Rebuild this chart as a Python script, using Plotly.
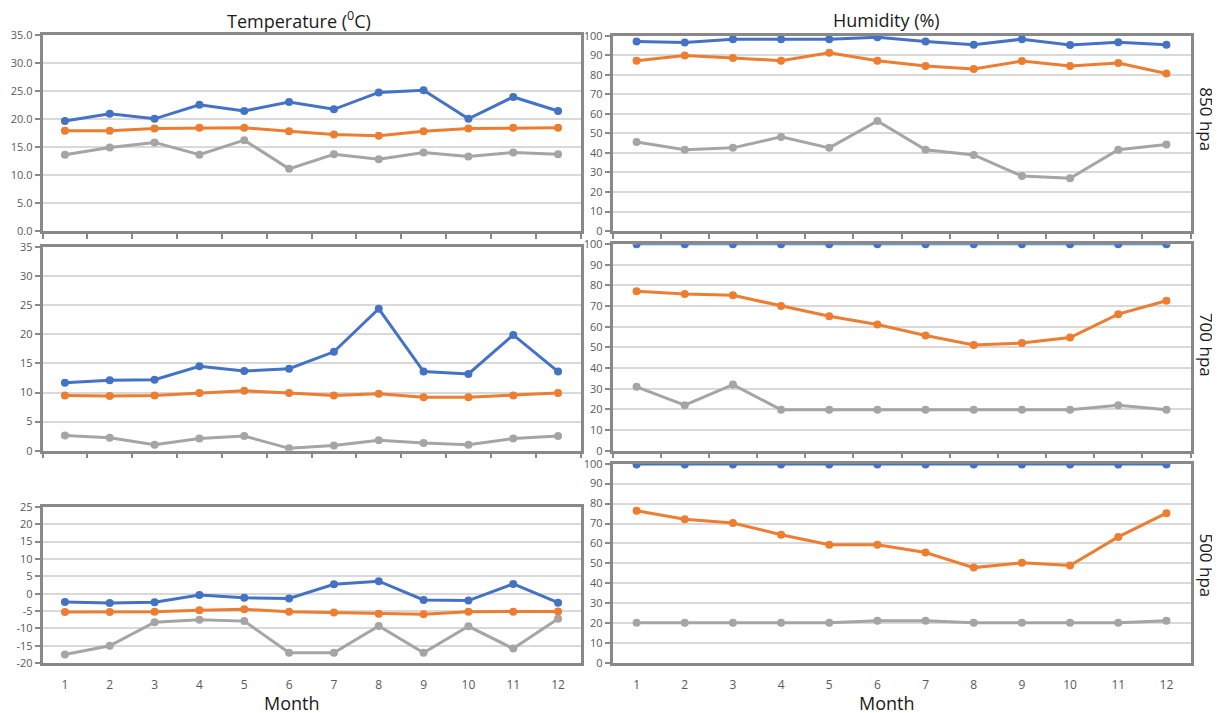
import plotly.graph_objects as go

months = list(range(1, 13))
month_labels = [str(m) for m in months]

# Temperature (deg C)
t850_blue = [19.6, 20.9, 20.0, 22.5, 21.4, 23.0, 21.7, 24.7, 25.1, 20.0, 23.9, 21.4]
t850_orange = [17.9, 17.9, 18.3, 18.4, 18.4, 17.8, 17.2, 17.0, 17.8, 18.3, 18.4, 18.4]
t850_gray = [13.6, 14.9, 15.8, 13.6, 16.2, 11.1, 13.7, 12.8, 14.0, 13.3, 14.0, 13.7]

t700_blue = [11.7, 12.1, 12.2, 14.5, 13.7, 14.1, 17.0, 24.4, 13.6, 13.2, 19.9, 13.6]
t700_orange = [9.5, 9.4, 9.5, 9.9, 10.3, 9.9, 9.5, 9.8, 9.2, 9.2, 9.5, 9.9]
t700_gray = [2.6, 2.2, 1.0, 2.1, 2.5, 0.4, 0.9, 1.8, 1.3, 1.0, 2.1, 2.5]

t500_blue = [-2.4, -2.7, -2.5, -0.4, -1.2, -1.4, 2.7, 3.6, -1.8, -2.0, 2.8, -2.6]
t500_orange = [-5.3, -5.3, -5.2, -4.8, -4.5, -5.2, -5.4, -5.8, -5.9, -5.2, -5.2, -5.1]
t500_gray = [-17.5, -15.0, -8.2, -7.5, -7.9, -17.0, -17.0, -9.3, -17.0, -9.4, -15.8, -7.2]

# Humidity (%)
h850_blue = [97.0, 96.5, 98.2, 98.2, 98.2, 99.2, 97.0, 95.3, 98.2, 95.2, 96.6, 95.3]
h850_orange = [87.2, 89.8, 88.6, 87.2, 91.2, 87.2, 84.5, 83.0, 87.0, 84.5, 86.0, 80.6]
h850_gray = [45.6, 41.6, 42.6, 48.2, 42.6, 56.4, 41.6, 39.0, 28.2, 27.0, 41.6, 44.3]

h700_blue = [100, 100, 100, 100, 100, 100, 100, 100, 100, 100, 100, 100]
h700_orange = [77.2, 75.9, 75.2, 70.1, 65.1, 61.1, 55.8, 51.2, 52.1, 54.8, 66.1, 72.6]
h700_gray = [30.9, 22.0, 32.0, 19.8, 19.8, 19.8, 19.8, 19.8, 19.8, 19.8, 22.0, 19.8]

h500_blue = [99.6, 99.6, 99.6, 99.6, 99.6, 99.6, 99.6, 99.6, 99.6, 99.6, 99.6, 99.6]
h500_orange = [76.4, 72.2, 70.3, 64.4, 59.4, 59.4, 55.5, 47.9, 50.3, 49.0, 63.3, 75.2]
h500_gray = [20.2, 20.2, 20.2, 20.2, 20.2, 21.3, 21.3, 20.2, 20.2, 20.2, 20.2, 21.3]

t500_ticks = [-20, -15, -10, -5, 0, 5, 10, 15, 20, 25]
temp_ticks = [0, 5, 10, 15, 20, 25, 30, 35]
hum_ticks = [0, 10, 20, 30, 40, 50, 60, 70, 80, 90, 100]

BLUE, ORANGE, GRAY = "#4472C4", "#ED7D31", "#A5A5A5"
W, H = 1220, 713

# screen-pixel -> paper-fraction helpers (compensate page offset)
def px(x):
    return (x - 7.5) / W

def py(y):
    return 1 - ((y - 17.4) / 0.9766) / H

fig = go.Figure()

panels = [
    (1, [t850_blue, t850_orange, t850_gray], 3),
    (2, [h850_blue, h850_orange, h850_gray], 3),
    (3, [t700_blue, t700_orange, t700_gray], 3),
    (4, [h700_blue, h700_orange, h700_gray], 2),
    (5, [t500_blue, t500_orange, t500_gray], 3),
    (6, [h500_blue, h500_orange, h500_gray], 2),
]
for n, series, bw in panels:
    sfx = "" if n == 1 else str(n)
    for vals, col in zip(series, [BLUE, ORANGE, GRAY]):
        lw = bw if col == BLUE else 3
        fig.add_trace(go.Scatter(
            x=months, y=vals, mode="lines+markers",
            line=dict(color=col, width=lw),
            marker=dict(color=col, size=8),
            xaxis="x" + sfx, yaxis="y" + sfx, showlegend=False,
        ))

frame = dict(showline=True, linecolor="#898989", linewidth=2.5, mirror=True,
             zeroline=False)
tickfont = dict(family="Open Sans, Arial, sans-serif", size=11, color="#595959")

doms = {
    1: ([px(42), px(580)], [py(232), py(36)]),
    2: ([px(612), px(1190)], [py(232), py(37)]),
    3: ([px(42), px(580)], [py(451), py(248)]),
    4: ([px(612), px(1190)], [py(451), py(245)]),
    5: ([px(42), px(580)], [py(663), py(507)]),
    6: ([px(612), px(1190)], [py(663), py(464)]),
}

layout = dict(width=W, height=H, margin=dict(l=0, r=0, t=0, b=0),
              paper_bgcolor="white", plot_bgcolor="white", showlegend=False)

boundaries = [m - 0.5 for m in months] + [12.5]
for n, (xdom, ydom) in doms.items():
    sfx = "" if n == 1 else str(n)
    xa = dict(domain=xdom, range=[0.5, 12.5], anchor="y" + sfx,
              showgrid=False, **frame)
    if n in (5, 6):
        xa.update(tickvals=months, ticktext=month_labels, ticks="",
                  ticklabelstandoff=9,
                  tickfont=dict(family="Open Sans, Arial, sans-serif", size=12, color="#595959"))
    else:
        xa.update(tickvals=boundaries, showticklabels=False, ticks="outside",
                  ticklen=5, tickcolor="#898989", tickwidth=2)
    if n in (1, 3):
        rng = [0, 35]
        tv = temp_ticks
        tt = [f"{v:.1f}" for v in tv] if n == 1 else [str(v) for v in tv]
    elif n == 5:
        rng = [-20, 25]
        tv = t500_ticks
        tt = [str(v) for v in tv]
    else:
        rng = [0, 100]
        tv = hum_ticks
        tt = [str(v) for v in tv]
    ya = dict(domain=ydom, range=rng, anchor="x" + sfx, tickvals=tv, ticktext=tt,
              showgrid=True, gridcolor="#d9d9d9", gridwidth=2,
              ticks="outside", ticklen=5, tickcolor="#898989", tickwidth=2,
              tickfont=tickfont, **frame)
    layout["xaxis" + sfx] = xa
    layout["yaxis" + sfx] = ya

fig.update_layout(**layout)

title_font = dict(family="Open Sans, Arial, sans-serif", size=18, color="#1a1a1a")
for txt, xc in (("Temperature (<sup>0</sup>C)", 298), ("Humidity (%)", 886)):
    fig.add_annotation(text=txt, xref="paper", yref="paper", x=px(xc), y=py(21),
                       showarrow=False, xanchor="center", yanchor="middle",
                       font=title_font)

month_font = dict(family="Open Sans, Arial, sans-serif", size=18, color="#1a1a1a")
for xc in (291, 886):
    fig.add_annotation(text="Month", xref="paper", yref="paper", x=px(xc),
                       y=py(703), showarrow=False, xanchor="center",
                       yanchor="middle", font=month_font)

side_font = dict(family="Open Sans, Arial, sans-serif", size=17, color="#1a1a1a")
for lbl, yc in (("850 hpa", 120), ("700 hpa", 345), ("500 hpa", 565)):
    fig.add_annotation(text=lbl, xref="paper", yref="paper", x=px(1206),
                       y=py(yc), showarrow=False, textangle=90,
                       xanchor="center", yanchor="middle", font=side_font)

fig.write_html("out.html")
